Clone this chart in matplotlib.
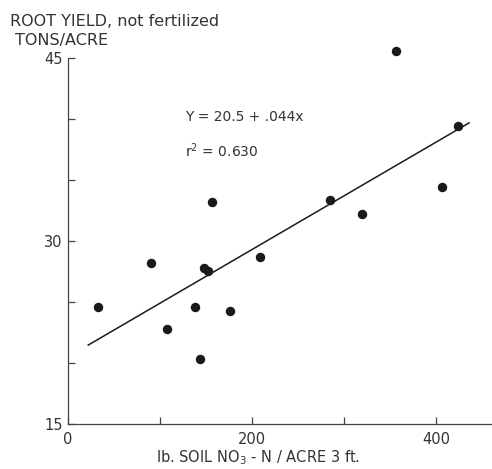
import matplotlib.pyplot as plt
import numpy as np

# soil nitrate (lb NO3-N / acre, 3 ft) vs root yield, not fertilized (tons/acre)
no3_n = [33, 90, 108, 138, 143, 148, 152, 157, 176, 209, 285, 320, 356, 407, 424]
yield_tons = [24.6, 28.2, 22.8, 24.6, 20.3, 27.8, 27.5, 33.2, 24.3, 28.7, 33.4, 32.2, 45.6, 34.4, 39.4]

# regression Y = 20.5 + .044x
a, b = 20.5, 0.044
x_fit = [22, 436]

fig = plt.figure(figsize=(4.92, 4.69), dpi=100)
ax = fig.add_axes([0.1382, 0.096, 0.862, 0.7803])

ink = '#1a1a1a'
ax.plot(no3_n, yield_tons, 'o', color=ink, markersize=5.8, clip_on=False)
ax.plot(x_fit, [a + b * v for v in x_fit], '-', color=ink, linewidth=1.1)

ax.set_xlim(0, 461)
ax.set_ylim(15, 45)
ax.spines['top'].set_visible(False)
ax.spines['right'].set_visible(False)
for s in ('left', 'bottom'):
    ax.spines[s].set_color('#444444')
    ax.spines[s].set_linewidth(0.9)

ax.set_xticks([0, 200, 400])
ax.set_xticks([100, 300], minor=True)
ax.set_yticks([15, 30, 45])
ax.set_yticks([20, 25, 35, 40], minor=True)
ax.tick_params(which='both', direction='in', length=5, width=0.9, color='#444444',
               labelsize=10.5, labelcolor='#333333')
ax.tick_params(axis='y', pad=4)
ax.tick_params(axis='x', pad=6)

ax.text(127, 40.2, 'Y = 20.5 + .044x', fontsize=10, color='#333333', va='center')
ax.text(127, 37.4, 'r$^2$ = 0.630', fontsize=10, color='#333333', va='center')

fig.text(10 / 492, 1 - 21 / 469, 'ROOT YIELD, not fertilized', fontsize=11.5,
         color='#333333', va='center', ha='left')
fig.text(15 / 492, 1 - 41 / 469, 'TONS/ACRE', fontsize=11.5,
         color='#333333', va='center', ha='left')
fig.text(258 / 492, 1 - 458 / 469, 'lb. SOIL NO$_3$ - N / ACRE 3 ft.', fontsize=10.5,
         color='#333333', va='center', ha='center')

fig.savefig('out.png', dpi=100)
